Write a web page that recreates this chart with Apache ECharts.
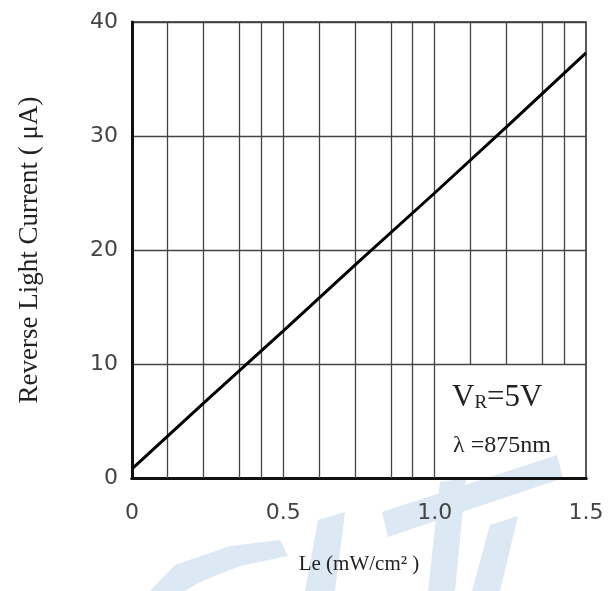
<!DOCTYPE html>
<html>
<head>
<meta charset="utf-8">
<script src="https://cdn.jsdelivr.net/npm/echarts@6/dist/echarts.min.js"></script>
<style>
  html, body { margin: 0; padding: 0; background: #fff; }
  #chart { width: 613px; height: 591px; }
</style>
</head>
<body>
<div id="chart"></div>
<script>
  // curve: Le (mW/cm2) vs reverse light current (uA)
  var irradiance = [0, 0.25, 0.5, 0.75, 1.0, 1.25, 1.5];
  var current = [0.8, 6.9, 12.9, 19.0, 25.0, 31.1, 37.3];

  // tick labels
  var xTicks = [0, 0.5, 1.0, 1.5];
  var xTickText = ['0', '0.5', '1.0', '1.5'];
  var yTicks = [0, 10, 20, 30, 40];

  // vertical grid lines of the printed chart paper
  var gridX = [0.118, 0.236, 0.355, 0.427, 0.5, 0.618, 0.736, 0.855, 0.927, 1.0,
               1.118, 1.236, 1.355, 1.427];
  var boxTop = 10; // legend box covers x>1.0, y<10

  var serif = '"Liberation Serif", "DejaVu Serif", serif';
  var sans = '"DejaVu Sans", sans-serif';
  var wm = '#dce9f4';

  var gridData = [];
  for (var i = 0; i < gridX.length; i++) {
    if (gridX[i] > 1.0) {
      gridData.push([{ coord: [gridX[i], boxTop] }, { coord: [gridX[i], 40] }]);
    } else {
      gridData.push([{ coord: [gridX[i], 0] }, { coord: [gridX[i], 40] }]);
    }
  }

  var pts = [];
  for (var j = 0; j < irradiance.length; j++) pts.push([irradiance[j], current[j]]);

  var chart = echarts.init(document.getElementById('chart'));
  chart.setOption({
    animation: false,
    backgroundColor: '#fff',
    grid: {
      left: 132, right: 27, top: 22, bottom: 113,
      show: true, borderColor: '#222', borderWidth: 1.5, backgroundColor: 'transparent'
    },
    graphic: [
      // faint watermark behind the chart
      { type: 'polygon', z: -10, silent: true, shape: { points: [[382, 512], [557, 455], [563, 478], [388, 537]] }, style: { fill: wm } },
      { type: 'polygon', z: -10, silent: true, shape: { points: [[490, 525], [518, 516], [500, 591], [472, 591]] }, style: { fill: wm } },
      { type: 'polygon', z: -10, silent: true, shape: { points: [[440, 482], [466, 478], [455, 591], [428, 591]] }, style: { fill: wm } },
      { type: 'polygon', z: -10, silent: true, shape: { points: [[318, 520], [345, 512], [335, 591], [305, 591]] }, style: { fill: wm } },
      { type: 'polygon', z: -10, silent: true, shape: { points: [[175, 565], [230, 546], [280, 540], [288, 556], [240, 566], [200, 582], [185, 591], [150, 591]] }, style: { fill: wm } },
      // conditions box text
      {
        type: 'text', left: 452, top: 382, z: 10,
        style: {
          text: '{a|V}{b|R}{a|=5V}',
          rich: {
            a: { fontFamily: serif, fontSize: 31, fill: '#222' },
            b: { fontFamily: serif, fontSize: 19, fill: '#222', verticalAlign: 'bottom', padding: [6, 0, 0, 0] }
          }
        }
      },
      {
        type: 'text', left: 453, top: 434, z: 10,
        style: { text: 'λ =875nm', fontFamily: serif, fontSize: 24, fill: '#222' }
      }
    ],
    xAxis: [{
      type: 'value', min: 0, max: 1.5, interval: 0.5,
      name: 'Le (mW/cm² )', nameLocation: 'middle', nameGap: 76,
      nameTextStyle: { fontFamily: serif, fontSize: 21, color: '#222' },
      axisLine: { show: true, onZero: false, lineStyle: { color: '#111', width: 3 } },
      axisTick: { show: false },
      splitLine: { show: false },
      axisLabel: {
        margin: 24, fontFamily: sans, fontSize: 22, color: '#444',
        formatter: function (v) {
          var k = xTicks.indexOf(v);
          return k >= 0 ? xTickText[k] : '';
        }
      }
    }, {
      type: 'value', min: 0, max: 1.5, position: 'top',
      axisLine: { show: true, lineStyle: { color: '#111', width: 3 } },
      axisTick: { show: false }, axisLabel: { show: false }, splitLine: { show: false }
    }],
    yAxis: {
      type: 'value', min: yTicks[0], max: yTicks[yTicks.length - 1], interval: 10,
      name: 'Reverse Light Current ( μA)', nameLocation: 'middle', nameGap: 89,
      nameTextStyle: { fontFamily: serif, fontSize: 27, color: '#222' },
      axisLine: { show: true, lineStyle: { color: '#111', width: 3 } },
      axisTick: { show: false },
      axisLabel: { margin: 14, fontFamily: sans, fontSize: 22, color: '#444' },
      splitLine: { show: true, lineStyle: { color: '#444', width: 1.3 } }
    },
    series: [{
      type: 'line',
      data: pts,
      symbol: 'none',
      lineStyle: { color: '#000', width: 3 },
      z: 5,
      silent: true,
      markLine: {
        silent: true,
        symbol: 'none',
        label: { show: false },
        lineStyle: { color: '#444', width: 1.3, type: 'solid' },
        emphasis: { disabled: true },
        data: gridData
      }
    }]
  });
</script>
</body>
</html>
